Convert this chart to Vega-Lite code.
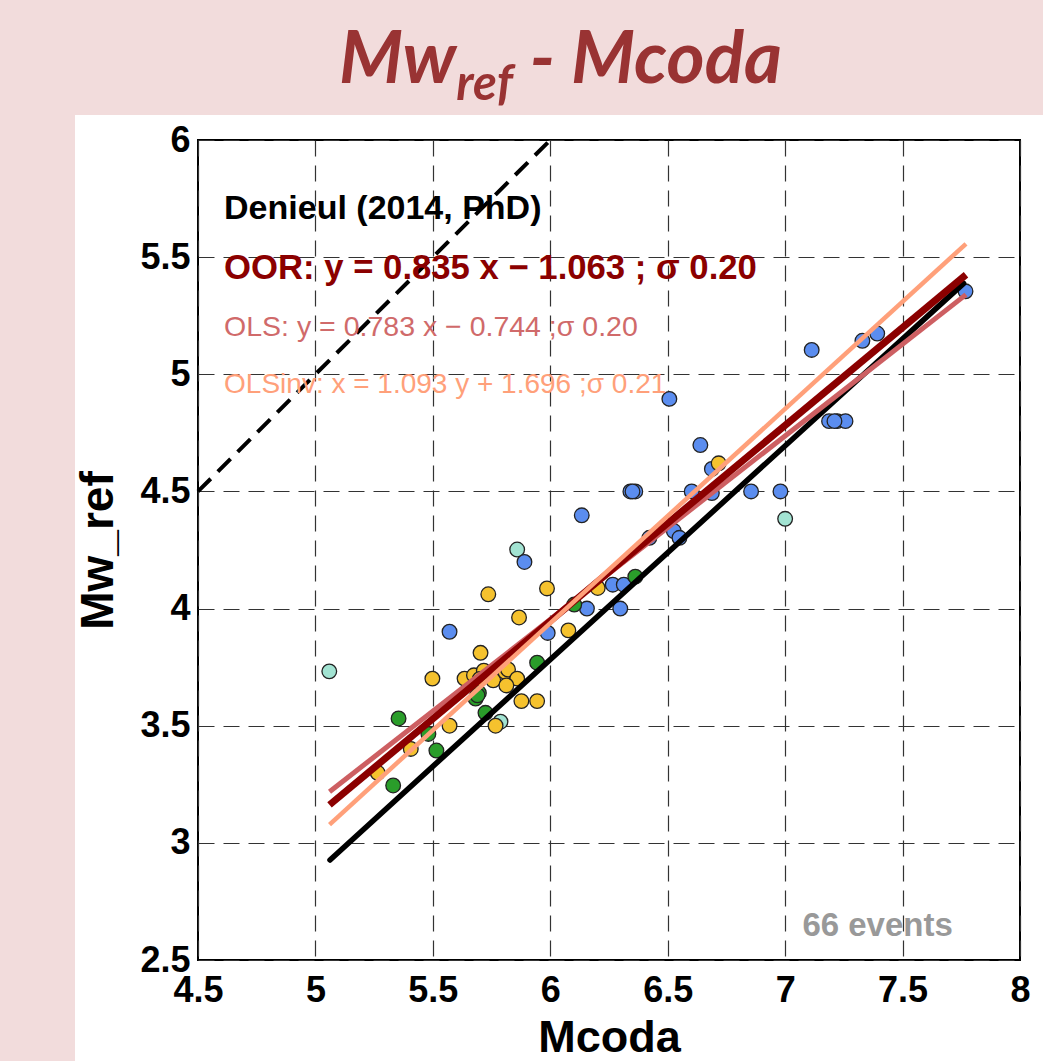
{
  "$schema": "https://vega.github.io/schema/vega-lite/v6.json",
  "autosize": {"type": "none"},
  "width": 822,
  "height": 820,
  "padding": {"left": 198, "top": 140, "right": 23, "bottom": 101},
  "background": "white",
  "config": {
    "view": {"stroke": "black", "strokeWidth": 2},
    "axis": {
      "labelFont": "Liberation Sans", "labelFontWeight": "bold", "labelColor": "black",
      "titleFont": "Liberation Sans", "titleFontWeight": "bold", "titleColor": "black",
      "ticks": false, "domain": false, "grid": true, "gridDash": [16, 9], "gridColor": "#333333",
      "gridWidth": 1.2, "gridOpacity": 1, "labelFlush": false, "labelOverlap": false
    }
  },
  "datasets": {
    "pts": [
      {"x": 5.859, "y": 4.252, "g": "D"}, {"x": 5.059, "y": 3.732, "g": "D"}, {"x": 5.788, "y": 3.517, "g": "D"}, {"x": 7.0, "y": 4.383, "g": "D"},
      {"x": 5.890, "y": 4.199, "g": "A"}, {"x": 5.571, "y": 3.901, "g": "A"}, {"x": 5.989, "y": 3.896, "g": "A"}, {"x": 6.507, "y": 4.895, "g": "A"},
      {"x": 6.639, "y": 4.698, "g": "A"}, {"x": 6.688, "y": 4.596, "g": "A"}, {"x": 6.341, "y": 4.5, "g": "A"}, {"x": 6.362, "y": 4.5, "g": "A"},
      {"x": 6.35, "y": 4.5, "g": "A"}, {"x": 6.602, "y": 4.5, "g": "A"}, {"x": 6.688, "y": 4.493, "g": "A"}, {"x": 6.855, "y": 4.5, "g": "A"},
      {"x": 6.980, "y": 4.5, "g": "A"}, {"x": 6.134, "y": 4.398, "g": "A"}, {"x": 6.422, "y": 4.302, "g": "A"}, {"x": 6.526, "y": 4.331, "g": "A"},
      {"x": 6.550, "y": 4.302, "g": "A"}, {"x": 6.266, "y": 4.102, "g": "A"}, {"x": 6.313, "y": 4.102, "g": "A"}, {"x": 6.156, "y": 4.0, "g": "A"},
      {"x": 6.298, "y": 4.0, "g": "A"}, {"x": 7.768, "y": 5.354, "g": "A"}, {"x": 7.113, "y": 5.104, "g": "A"}, {"x": 7.329, "y": 5.143, "g": "A"},
      {"x": 7.392, "y": 5.174, "g": "A"}, {"x": 7.187, "y": 4.8, "g": "A"}, {"x": 7.222, "y": 4.8, "g": "A"}, {"x": 7.257, "y": 4.8, "g": "A"},
      {"x": 7.21, "y": 4.8, "g": "A"},
      {"x": 5.736, "y": 4.061, "g": "B"}, {"x": 5.986, "y": 4.086, "g": "B"}, {"x": 5.867, "y": 3.962, "g": "B"}, {"x": 5.703, "y": 3.811, "g": "B"},
      {"x": 5.498, "y": 3.701, "g": "B"}, {"x": 5.635, "y": 3.701, "g": "B"}, {"x": 5.675, "y": 3.715, "g": "B"}, {"x": 5.717, "y": 3.735, "g": "B"},
      {"x": 5.757, "y": 3.694, "g": "B"}, {"x": 5.809, "y": 3.729, "g": "B"}, {"x": 5.82, "y": 3.74, "g": "B"}, {"x": 5.859, "y": 3.701, "g": "B"},
      {"x": 5.813, "y": 3.672, "g": "B"}, {"x": 5.70, "y": 3.70, "g": "B"}, {"x": 5.877, "y": 3.605, "g": "B"}, {"x": 5.944, "y": 3.605, "g": "B"},
      {"x": 5.767, "y": 3.5, "g": "B"}, {"x": 5.571, "y": 3.5, "g": "B"}, {"x": 5.406, "y": 3.401, "g": "B"}, {"x": 5.265, "y": 3.299, "g": "B"},
      {"x": 6.717, "y": 4.620, "g": "B"}, {"x": 6.202, "y": 4.088, "g": "B"}, {"x": 6.077, "y": 3.907, "g": "B"},
      {"x": 5.696, "y": 3.640, "g": "C"}, {"x": 5.682, "y": 3.616, "g": "C"}, {"x": 5.69, "y": 3.63, "g": "C"}, {"x": 5.944, "y": 3.769, "g": "C"},
      {"x": 5.724, "y": 3.555, "g": "C"}, {"x": 5.354, "y": 3.531, "g": "C"}, {"x": 5.481, "y": 3.465, "g": "C"}, {"x": 5.515, "y": 3.394, "g": "C"},
      {"x": 5.331, "y": 3.245, "g": "C"}, {"x": 6.362, "y": 4.136, "g": "C"}, {"x": 6.102, "y": 4.017, "g": "C"}
    ],
    "fits": [
      {"fit": "one", "x": 4.5, "y": 4.5}, {"fit": "one", "x": 6.0, "y": 6.0},
      {"fit": "ref", "x": 5.062, "y": 2.927}, {"fit": "ref", "x": 7.76, "y": 5.388},
      {"fit": "OLS", "x": 5.06, "y": 3.218}, {"fit": "OLS", "x": 7.77, "y": 5.340},
      {"fit": "OOR", "x": 5.06, "y": 3.162}, {"fit": "OOR", "x": 7.77, "y": 5.425},
      {"fit": "OLSinv", "x": 5.06, "y": 3.078}, {"fit": "OLSinv", "x": 7.77, "y": 5.557}
    ],
    "one": [{}]
  },
  "layer": [
    {
      "data": {"name": "pts"},
      "mark": {"type": "point", "shape": "circle", "filled": true, "size": 215, "stroke": "#222222", "strokeWidth": 1.3, "opacity": 1},
      "encoding": {
        "x": {"field": "x", "type": "quantitative",
          "scale": {"domain": [4.5, 8], "nice": false, "zero": false},
          "axis": {"values": [4.5, 5, 5.5, 6, 6.5, 7, 7.5, 8], "format": "~g", "labelFontSize": 36, "labelPadding": 13,
            "title": "Mcoda", "titleFontSize": 45, "titleX": 411, "titleY": 91, "titleBaseline": "alphabetic", "titleAlign": "center", "titleAngle": 0}},
        "y": {"field": "y", "type": "quantitative",
          "scale": {"domain": [2.5, 6], "nice": false, "zero": false},
          "axis": {"values": [2.5, 3, 3.5, 4, 4.5, 5, 5.5, 6], "format": "~g", "labelFontSize": 36, "labelPadding": 8,
            "title": "Mw_ref", "titleFontSize": 46, "titleX": -86, "titleY": 410, "titleBaseline": "alphabetic", "titleAlign": "center", "titleAngle": -90}},
        "fill": {"field": "g", "type": "nominal", "legend": null,
          "scale": {"domain": ["A", "B", "C", "D"], "range": ["#5b8def", "#f5c22e", "#2a9d2a", "#a2e3d2"]}}
      }
    },
    {
      "data": {"name": "fits"},
      "transform": [{"filter": "datum.fit == 'one'"}],
      "mark": {"type": "line", "color": "black", "strokeWidth": 4, "strokeDash": [18, 10]},
      "encoding": {"x": {"field": "x", "type": "quantitative"}, "y": {"field": "y", "type": "quantitative"}}
    },
    {
      "data": {"name": "fits"},
      "transform": [{"filter": "datum.fit == 'ref'"}],
      "mark": {"type": "line", "color": "black", "strokeWidth": 5.5, "strokeCap": "round"},
      "encoding": {"x": {"field": "x", "type": "quantitative"}, "y": {"field": "y", "type": "quantitative"}}
    },
    {
      "data": {"name": "fits"},
      "transform": [{"filter": "datum.fit == 'OLS'"}],
      "mark": {"type": "line", "color": "#cd5f62", "strokeWidth": 5},
      "encoding": {"x": {"field": "x", "type": "quantitative"}, "y": {"field": "y", "type": "quantitative"}}
    },
    {
      "data": {"name": "fits"},
      "transform": [{"filter": "datum.fit == 'OOR'"}],
      "mark": {"type": "line", "color": "#8b0000", "strokeWidth": 7},
      "encoding": {"x": {"field": "x", "type": "quantitative"}, "y": {"field": "y", "type": "quantitative"}}
    },
    {
      "data": {"name": "fits"},
      "transform": [{"filter": "datum.fit == 'OLSinv'"}],
      "mark": {"type": "line", "color": "#ffa07a", "strokeWidth": 4.5},
      "encoding": {"x": {"field": "x", "type": "quantitative"}, "y": {"field": "y", "type": "quantitative"}}
    },
    {
      "data": {"name": "one"},
      "mark": {"type": "text", "text": "Denieul (2014, PhD)", "font": "Liberation Sans", "fontWeight": "bold", "fontSize": 34, "color": "black", "align": "left", "baseline": "middle"},
      "encoding": {"x": {"datum": 4.611, "type": "quantitative"}, "y": {"datum": 5.7055, "type": "quantitative"}}
    },
    {
      "data": {"name": "one"},
      "mark": {"type": "text", "text": "OOR: y = 0.835 x \u2212 1.063 ; \u03c3 0.20", "font": "Liberation Sans", "fontWeight": "bold", "fontSize": 34.7, "color": "#8b0000", "align": "left", "baseline": "middle"},
      "encoding": {"x": {"datum": 4.611, "type": "quantitative"}, "y": {"datum": 5.4515, "type": "quantitative"}}
    },
    {
      "data": {"name": "one"},
      "mark": {"type": "text", "text": "OLS: y = 0.783 x \u2212 0.744 ;\u03c3 0.20", "font": "Liberation Sans", "fontSize": 28.5, "color": "#d06a6a", "align": "left", "baseline": "middle"},
      "encoding": {"x": {"datum": 4.611, "type": "quantitative"}, "y": {"datum": 5.2, "type": "quantitative"}}
    },
    {
      "data": {"name": "one"},
      "mark": {"type": "text", "text": "OLSinv: x = 1.093 y + 1.696 ;\u03c3 0.21", "font": "Liberation Sans", "fontSize": 28, "color": "#ffa07a", "align": "left", "baseline": "middle"},
      "encoding": {"x": {"datum": 4.611, "type": "quantitative"}, "y": {"datum": 4.954, "type": "quantitative"}}
    },
    {
      "data": {"name": "one"},
      "mark": {"type": "text", "text": "66 events", "font": "Liberation Sans", "fontWeight": "bold", "fontSize": 33, "color": "#999999", "align": "right", "baseline": "middle"},
      "encoding": {"x": {"datum": 7.714, "type": "quantitative"}, "y": {"datum": 2.645, "type": "quantitative"}}
    },
    {
      "data": {"name": "one"},
      "mark": {"type": "rect", "color": "#f2dcdc"},
      "encoding": {"x": {"datum": 3.5, "type": "quantitative"}, "x2": {"datum": 8.3},
                   "y": {"datum": 6.7, "type": "quantitative"}, "y2": {"datum": 6.1067}}
    },
    {
      "data": {"name": "one"},
      "mark": {"type": "rect", "color": "#f2dcdc"},
      "encoding": {"x": {"datum": 3.5, "type": "quantitative"}, "x2": {"datum": 3.9763},
                   "y": {"datum": 6.7, "type": "quantitative"}, "y2": {"datum": 1.9}}
    },
    {
      "data": {"name": "one"},
      "mark": {"type": "text", "text": "Mw", "font": "Lato", "fontStyle": "italic", "fontWeight": "bold", "fontSize": 73, "color": "#993333", "align": "left", "baseline": "alphabetic"},
      "encoding": {"x": {"datum": 5.1, "type": "quantitative"}, "y": {"datum": 6.243, "type": "quantitative"}}
    },
    {
      "data": {"name": "one"},
      "mark": {"type": "text", "text": "ref", "font": "Lato", "fontStyle": "italic", "fontWeight": "bold", "fontSize": 49, "color": "#993333", "align": "left", "baseline": "alphabetic"},
      "encoding": {"x": {"datum": 5.6, "type": "quantitative"}, "y": {"datum": 6.1707, "type": "quantitative"}}
    },
    {
      "data": {"name": "one"},
      "mark": {"type": "text", "text": "- Mcoda", "font": "Lato", "fontStyle": "italic", "fontWeight": "bold", "fontSize": 73, "color": "#993333", "align": "right", "baseline": "alphabetic"},
      "encoding": {"x": {"datum": 6.987, "type": "quantitative"}, "y": {"datum": 6.243, "type": "quantitative"}}
    }
  ]
}
